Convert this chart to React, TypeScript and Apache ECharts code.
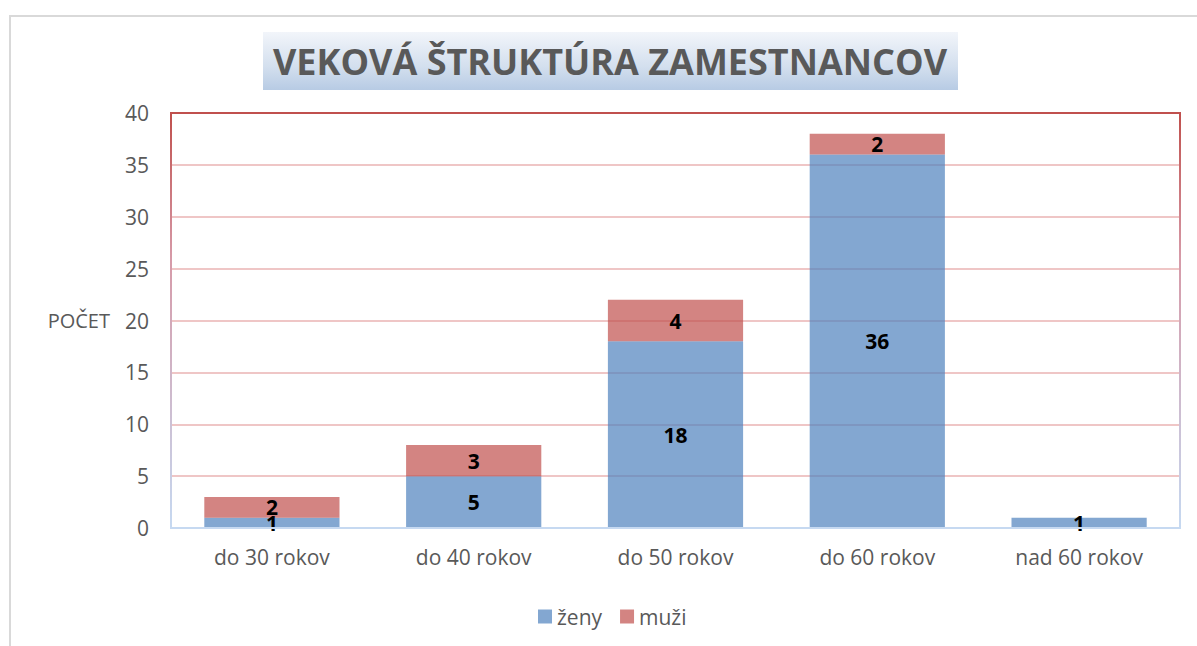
import React, { useEffect, useRef } from "react";
import * as echarts from "echarts";

const categories = ["do 30 rokov", "do 40 rokov", "do 50 rokov", "do 60 rokov", "nad 60 rokov"];
const zeny = [1, 5, 18, 36, 1];
const muzi = [2, 3, 4, 2, 0];
const seriesNames = ["ženy", "muži"];
const titleText = "VEKOVÁ ŠTRUKTÚRA ZAMESTNANCOV";
const yAxisName = "POČET";

const GRID = { left: 171, top: 113, width: 1009, height: 415 };
const FONT = "'Open Sans', 'Noto Sans', sans-serif";

export default function App() {
  const ref = useRef<HTMLDivElement>(null);
  useEffect(() => {
    if (!ref.current) return;
    const chart = echarts.init(ref.current, null, { renderer: "svg" });
    const labelStyle = {
      show: true,
      position: "inside",
      color: "#000",
      fontWeight: "bold",
      fontSize: 21,
      fontFamily: FONT,
      formatter: (p: any) => (p.value ? String(p.value) : ""),
    };
    chart.setOption({
      animation: false,
      backgroundColor: "#fff",
      textStyle: { fontFamily: FONT },
      grid: { left: GRID.left, top: GRID.top, width: GRID.width, height: GRID.height, containLabel: false },
      legend: {
        bottom: 14,
        left: 533,
        itemWidth: 14,
        itemHeight: 14,
        itemGap: 18,
        icon: "rect",
        textStyle: { color: "#595959", fontSize: 21, fontFamily: FONT },
        data: seriesNames,
      },
      xAxis: {
        type: "category",
        data: categories,
        axisLine: { lineStyle: { color: "#bfbfbf", width: 2 } },
        axisTick: { show: false },
        axisLabel: { color: "#595959", fontSize: 21, margin: 18, fontFamily: FONT },
      },
      yAxis: {
        type: "value",
        min: 0,
        max: 40,
        interval: 5,
        name: yAxisName,
        nameLocation: "middle",
        nameRotate: 0,
        nameGap: 61,
        nameTextStyle: { color: "#595959", fontSize: 20, fontFamily: FONT },
        axisLine: { show: false },
        axisTick: { show: false },
        axisLabel: { color: "#595959", fontSize: 21, margin: 22, fontFamily: FONT },
        splitLine: { lineStyle: { color: "#efc6c6", width: 2 } },
      },
      series: [
        {
          name: seriesNames[0],
          type: "bar",
          stack: "total",
          barWidth: "67%",
          data: zeny,
          itemStyle: { color: "rgba(79,129,189,0.7)" },
          label: labelStyle,
        },
        {
          name: seriesNames[1],
          type: "bar",
          stack: "total",
          barWidth: "67%",
          data: muzi,
          itemStyle: { color: "rgba(192,80,77,0.7)" },
          label: labelStyle,
        },
      ],
      graphic: [
        {
          type: "rect",
          z: -10,
          silent: true,
          shape: { x: 10, y: 16, width: 1200, height: 640 },
          style: { fill: "none", stroke: "#d9d9d9", lineWidth: 2 },
        },
        {
          type: "rect",
          z: 100,
          silent: true,
          shape: { x: GRID.left, y: GRID.top, width: GRID.width, height: GRID.height },
          style: {
            fill: "none",
            lineWidth: 2,
            stroke: new echarts.graphic.LinearGradient(0, 0, 0, 1, [
              { offset: 0, color: "#c0504d" },
              { offset: 0.35, color: "#d69aa8" },
              { offset: 1, color: "#c6d9f1" },
            ]),
          },
        },
        {
          type: "rect",
          silent: true,
          shape: { x: 263, y: 32, width: 695, height: 58 },
          style: {
            fill: new echarts.graphic.LinearGradient(0, 0, 0, 1, [
              { offset: 0, color: "#f2f5fa" },
              { offset: 0.6, color: "#d3dfee" },
              { offset: 1, color: "#b7cbe4" },
            ]),
          },
        },
        {
          type: "text",
          silent: true,
          x: 610,
          y: 61,
          style: {
            text: titleText,
            fill: "#595959",
            fontSize: 36,
            fontWeight: "bold",
            fontFamily: FONT,
            align: "center",
            verticalAlign: "middle",
          },
        },
      ],
    });
    return () => chart.dispose();
  }, []);
  return (
    <div
      ref={ref}
      style={{ position: "absolute", left: 0, top: 0, width: 1197, height: 646 }}
    />
  );
}
